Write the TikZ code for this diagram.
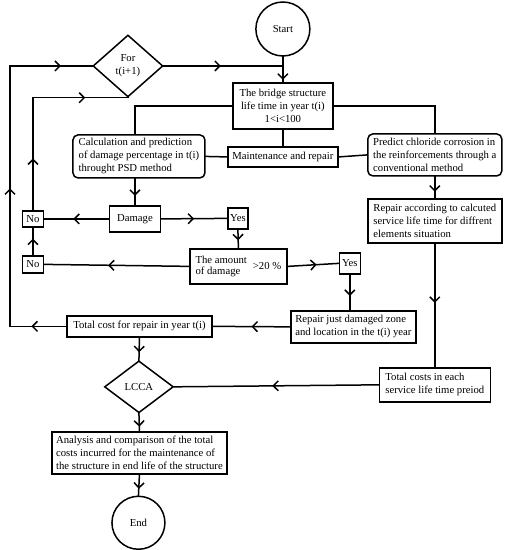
\documentclass[tikz,border=0pt]{standalone}
\usepackage{amsmath}
\usepackage{fontspec}
\setmainfont{Liberation Serif}
\usepackage{tikz}
\usepackage{xcolor}
\usetikzlibrary{shapes.geometric,arrows.meta,decorations.markings}

\begin{document}
\begin{tikzpicture}[x=1pt,y=-1pt,line width=1.5pt,line cap=rect,
	every node/.style={font=\fontsize{10.7}{13}\selectfont,inner sep=1pt},
	box/.style={draw,rectangle},
	rbox/.style={draw,rectangle,rounded corners=5pt},
	dia/.style={draw,diamond,inner sep=0pt,align=center},
	term/.style={draw,circle,minimum size=#1},
	flowarr/.style={postaction={decorate,decoration={markings,
		mark=at position #1 with {\arrow{Straight Barb[length=5pt,width=10pt]}}}}}]
	\path[fill=white] (0,0) rectangle (505,550);
	\node[term=54pt] (start) at (283,29) {Start};
	\node[dia,minimum width=70pt,minimum height=62pt] (forx) at (128,66) {For\\t(i+1)};
	\node[box,minimum width=100pt,minimum height=46pt,align=center] (bridge) at (283,106) {The bridge structure\\life time in year t(i)\\1<i<100};
	\node[box,minimum width=110pt,minimum height=20pt] (maint) at (283,157) {Maintenance and repair};
	\node[rbox,minimum width=132pt,minimum height=43pt,align=left] (calc) at (139,156.5) {Calculation and prediction\\of damage percentage in t(i)\\throught PSD method};
	\node[rbox,minimum width=134pt,minimum height=42pt,align=left] (pred) at (435,155) {Predict chloride corrosion in\\the reinforcements through a\\conventional method};
	\node[box,minimum width=51pt,minimum height=26pt] (dmg) at (135,219) {Damage};
	\node[box,minimum width=21pt,minimum height=16pt] (no1) at (33,219) {No};
	\node[box,minimum width=20pt,minimum height=21pt] (yes1) at (238,218.5) {Yes};
	\node[box,minimum width=97pt,minimum height=35pt] (amount) at (238.5,266.5) {\begin{tabular}{@{}l@{}}The amount\\[-2pt]of damage\end{tabular}\hspace{6pt}>20 \%};
	\node[box,minimum width=21pt,minimum height=17pt] (no2) at (33,264.5) {No};
	\node[box,minimum width=21pt,minimum height=21pt] (yes2) at (350,263.5) {Yes};
	\node[box,minimum width=125pt,minimum height=32pt,align=left] (rep) at (353.5,327) {Repair just damaged zone\\and location in the t(i) year};
	\node[box,minimum width=145pt,minimum height=21pt] (cost) at (139.5,326.5) {Total cost for repair in year t(i)};
	\node[box,minimum width=134pt,minimum height=44pt,align=left] (repacc) at (435,221) {Repair according to calcuted\\service life time for diffrent\\elements situation};
	\node[box,minimum width=111pt,minimum height=34pt,align=left] (tcost) at (435,385) {Total costs in each\\service life time preiod};
	\node[dia,minimum width=69pt,minimum height=52pt] (lcca) at (139,387) {LCCA};
	\node[box,minimum width=175pt,minimum height=42pt,align=left] (anal) at (139.5,453) {Analysis and comparison of the total\\costs incurred for the maintenance of\\the structure in end life of the structure};
	\node[term=53pt] (end) at (138.5,523) {End};
	\coordinate (join) at (start.south |- forx.east);
	\coordinate (loopL) at (10,0);
	\coordinate (loopA) at (cost.west -| loopL);
	\coordinate (loopB) at (forx.west -| loopL);
	\coordinate (loopC) at (no1.north |- forx.south);
	\draw (start.south) -- (join);
	\draw[flowarr=0.48] (forx.east) -- (join);
	\draw[flowarr=0.85] (join) -- (join |- bridge.north);
	\draw[flowarr=0.62] (cost.west) -- (loopA);
	\draw[flowarr=0.53] (loopA) -- (loopB);
	\draw[flowarr=0.62] (loopB) -- (forx.west);
	\draw[flowarr=0.46] (no1.north) -- (loopC);
	\draw[flowarr=0.55] (loopC) -- (forx.south);
	\draw (bridge.west) -| (dmg.north |- calc.north);
	\draw (bridge.east) -| (pred.north);
	\draw (bridge.south) -- (maint.north);
	\draw (maint.west) -- (calc.east);
	\draw (maint.east) -- (pred.west);
	\draw[flowarr=0.65] (dmg.north |- calc.south) -- (dmg.north);
	\draw[flowarr=0.5] (dmg.east) -- (yes1.west);
	\draw[flowarr=0.55] (dmg.west) -- (no1.east);
	\draw[flowarr=0.58] (yes1.south) -- (amount.north);
	\draw[flowarr=0.56] (amount.west) -- (no2.east);
	\draw[flowarr=0.6] (no2.north) -- (no1.south);
	\draw[flowarr=0.57] (amount.east) -- (yes2.west);
	\draw[flowarr=0.6] (yes2.south) -- (yes2.south |- rep.north);
	\draw[flowarr=0.5] (rep.west) -- (cost.east);
	\draw[flowarr=0.65] (cost.south) -- (lcca.north);
	\draw[flowarr=0.7] (pred.south) -- (repacc.north);
	\draw[flowarr=0.48] (repacc.south) -- (tcost.north);
	\draw[flowarr=0.52] (tcost.west) -- (lcca.east);
	\draw[flowarr=0.75] (lcca.south) -- (anal.north);
	\draw[flowarr=0.68] (anal.south) -- (end.north);
\end{tikzpicture}
\end{document}
